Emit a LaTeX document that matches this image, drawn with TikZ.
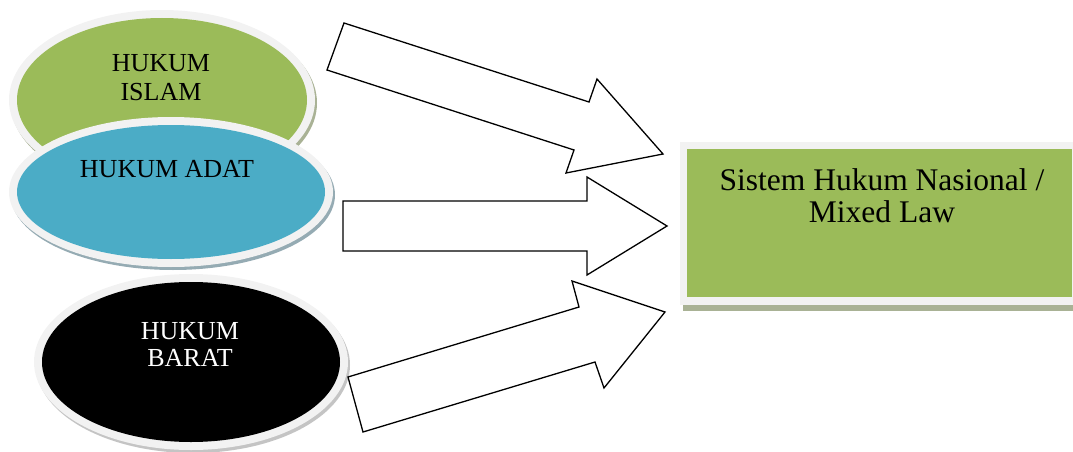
\documentclass[tikz,border=0pt]{standalone}
\usepackage{fontspec}
\setmainfont{Liberation Serif}

\definecolor{islamgreen}{HTML}{9BBB59}
\definecolor{adatblue}{HTML}{4BACC6}
\definecolor{ringgray}{HTML}{F2F2F2}
\definecolor{shadowgreen}{HTML}{A9B295}
\definecolor{shadowblue}{HTML}{95ABB3}
\definecolor{shadowgray}{HTML}{C4C4C4}

\tikzset{
  lawtext/.style={align=center, inner sep=0pt, font=\fontsize{26}{29}\selectfont},
  blockarrow/.style={draw=black, fill=white, line width=1.3pt, line join=miter},
}

% ringed ellipse: center, outer rx, outer ry, fill, shadow
\newcommand{\lawellipse}[5]{%
  \fill[#5, shift={(2,3)}] (#1) ellipse [x radius=#2, y radius=#3];
  \fill[ringgray] (#1) ellipse [x radius=#2, y radius=#3];
  \fill[#4] (#1) ellipse [x radius=#2-8, y radius=#3-8];
}

\begin{document}
\begin{tikzpicture}[x=1pt, y=-1pt]
    \useasboundingbox (0,0) rectangle (1073,452);

    %––––– sources –––––
    \lawellipse{162,100}{153}{90}{islamgreen}{shadowgreen}
    \node[lawtext] (islam) at (161,78) {HUKUM\\ISLAM};

    \lawellipse{171,192}{162}{75}{adatblue}{shadowblue}
    \node[lawtext] (adat) at (167,169) {HUKUM ADAT};

    \lawellipse{191,362}{157}{88}{black}{shadowgray}
    \node[lawtext, text=white, font=\fontsize{26}{27}\selectfont] (barat) at (190,345) {HUKUM\\BARAT};

    %––––– arrows –––––
    \draw[blockarrow] (344,23) -- (589,102) -- (597,79) -- (663,154)
      -- (566,173) -- (574,150) -- (327,70) -- cycle;
    \draw[blockarrow] (343,201) -- (587,201) -- (587,177) -- (667,226)
      -- (587,275) -- (587,251) -- (343,251) -- cycle;
    \draw[blockarrow] (348,377) -- (579,307) -- (572,281) -- (665,312)
      -- (604,388) -- (595,362) -- (363,432) -- cycle;

    %––––– target –––––
    \fill[shadowgreen] (683,150) rectangle (1073,311);
    \fill[ringgray] (680,142) rectangle (1073,305);
    \fill[islamgreen] (687,149) rectangle (1072,297);
    \node[lawtext, font=\fontsize{31.5}{32}\selectfont] (nasional) at (882,196) {Sistem Hukum Nasional /\\Mixed Law};
  \end{tikzpicture}
\end{document}
